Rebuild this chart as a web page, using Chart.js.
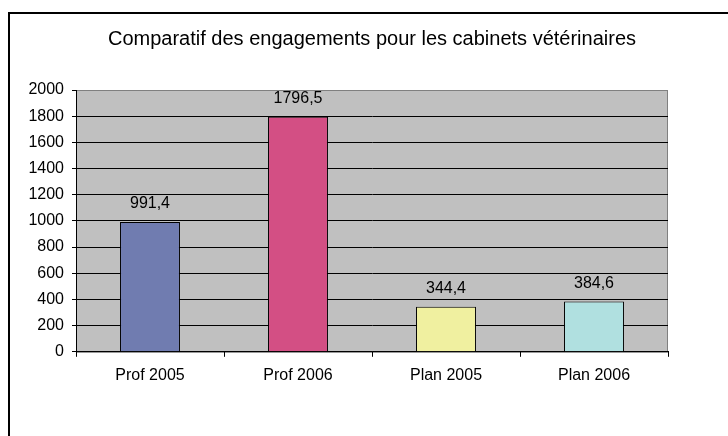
<!DOCTYPE html>
<html>
<head>
<meta charset="utf-8">
<script src="https://cdn.jsdelivr.net/npm/chart.js@4"></script>
<style>
  html, body { margin: 0; padding: 0; background: #fff; }
  #frame {
    position: absolute; left: 8px; top: 12px;
    width: 718px; height: 422px;
    border-left: 2px solid #000; border-top: 2px solid #000;
  }
  #chart { display: block; }
</style>
</head>
<body>
<div id="frame"><canvas id="chart" width="718" height="422"></canvas></div>
<script>
const categories = ['Prof 2005', 'Prof 2006', 'Plan 2005', 'Plan 2006'];
const engagements = [991.4, 1796.5, 344.4, 384.6];
const barColors = ['#707cb0', '#d34f84', '#f0f0a0', '#b0e0e0'];
const yTicks = [0, 200, 400, 600, 800, 1000, 1200, 1400, 1600, 1800, 2000];
const chartTitle = 'Comparatif des engagements pour les cabinets vétérinaires';

const FONT = "'Liberation Sans', Arial, sans-serif";

// gray plot background with a darker border
const plotBackground = {
  id: 'plotBackground',
  beforeDraw(chart) {
    const { ctx, chartArea: a } = chart;
    ctx.save();
    ctx.fillStyle = '#c0c0c0';
    ctx.fillRect(a.left, a.top, a.right - a.left, a.bottom - a.top);
    ctx.strokeStyle = '#808080';
    ctx.lineWidth = 1;
    ctx.strokeRect(a.left + 0.5, a.top + 0.5, a.right - a.left - 1, a.bottom - a.top);
    ctx.restore();
  }
};

// title centred over the plot area (Excel style)
const plotTitle = {
  id: 'plotTitle',
  afterDraw(chart) {
    const { ctx, chartArea: a } = chart;
    ctx.save();
    ctx.fillStyle = '#000';
    ctx.font = '20px ' + FONT;
    ctx.textAlign = 'center';
    ctx.textBaseline = 'middle';
    ctx.fillText(chartTitle, (a.left + a.right) / 2, 25);
    ctx.restore();
  }
};

// value labels above each bar
const valueLabels = {
  id: 'valueLabels',
  afterDatasetsDraw(chart) {
    const { ctx } = chart;
    const meta = chart.getDatasetMeta(0);
    ctx.save();
    ctx.fillStyle = '#000';
    ctx.font = '16px ' + FONT;
    ctx.textAlign = 'center';
    ctx.textBaseline = 'middle';
    meta.data.forEach((bar, i) => {
      const txt = engagements[i].toFixed(1).replace('.', ',');
      ctx.fillText(txt, bar.x, bar.y - 18);
    });
    ctx.restore();
  }
};

new Chart(document.getElementById('chart'), {
  type: 'bar',
  data: {
    labels: categories,
    datasets: [{
      data: engagements,
      backgroundColor: barColors,
      borderColor: '#000',
      borderWidth: 1,
      categoryPercentage: 1,
      barPercentage: 0.405
    }]
  },
  options: {
    responsive: false,
    animation: false,
    events: [],
    layout: { padding: { left: 0, right: 60, top: 76, bottom: 42 } },
    plugins: {
      legend: { display: false },
      tooltip: { enabled: false },
      title: { display: false }
    },
    scales: {
      x: {
        offset: true,
        grid: { offset: true, drawOnChartArea: false, drawTicks: true, tickLength: 5, color: '#000' },
        border: { color: '#000', width: 1 },
        ticks: { color: '#000', font: { family: FONT, size: 16 }, padding: 9, maxRotation: 0 }
      },
      y: {
        min: 0,
        max: 2000,
        afterBuildTicks(axis) { axis.ticks = yTicks.map(v => ({ value: v })); },
        afterFit(axis) { axis.width = 66; },
        grid: {
          color: ctx => (ctx.tick && ctx.tick.value === 2000 ? '#808080' : '#000'),
          tickColor: '#000',
          tickLength: 4,
          lineWidth: 1
        },
        border: { color: '#000', width: 1 },
        ticks: {
          color: '#000',
          font: { family: FONT, size: 16 },
          padding: 8,
          callback: v => String(v)
        }
      }
    }
  },
  plugins: [plotBackground, plotTitle, valueLabels]
});
</script>
</body>
</html>
